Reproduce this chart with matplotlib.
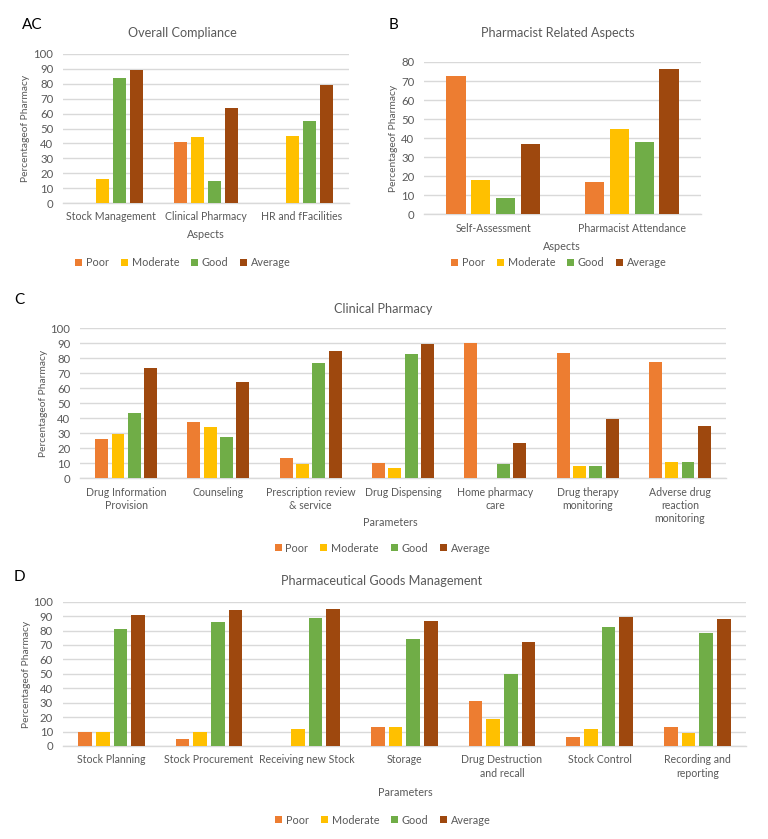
import numpy as np
import matplotlib
matplotlib.use("Agg")
import matplotlib.pyplot as plt
from matplotlib.patches import Patch

plt.rcParams['font.family'] = ['Lato', 'DejaVu Sans']

series = ["Poor", "Moderate", "Good", "Average"]
colors = ["#ED7D31", "#FFC000", "#70AD47", "#9E480E"]

a_cats = ["Stock Management", "Clinical Pharmacy", "HR and fFacilities"]
a_poor = [0, 41, 0]
a_mod = [16, 44, 45]
a_good = [84, 14.5, 55]
a_avg = [89, 64, 79.5]

b_cats = ["Self-Assessment", "Pharmacist Attendance"]
b_poor = [72.7, 17]
b_mod = [18, 44.8]
b_good = [8.8, 37.8]
b_avg = [36.8, 76.2]

c_cats = ["Drug Information\nProvision", "Counseling", "Prescription review\n& service",
          "Drug Dispensing", "Home pharmacy\ncare", "Drug therapy\nmonitoring",
          "Adverse drug\nreaction\nmonitoring"]
c_poor = [26.3, 37.8, 13.3, 10, 90, 83.3, 77.7]
c_mod = [29.7, 34.3, 9.8, 6.9, 0, 8, 10.8]
c_good = [43.4, 27.4, 76.7, 82.7, 9.8, 8, 10.8]
c_avg = [73.4, 64, 84.7, 89.8, 23.7, 39.6, 35]

d_cats = ["Stock Planning", "Stock Procurement", "Receiving new Stock", "Storage",
          "Drug Destruction\nand recall", "Stock Control", "Recording and\nreporting"]
d_poor = [9.5, 4.6, 0, 12.9, 31.2, 6, 12.9]
d_mod = [9.5, 9.5, 11.8, 12.9, 18.7, 11.5, 8.8]
d_good = [81, 85.7, 88.5, 74.1, 50.1, 82.2, 78.3]
d_avg = [91, 94.2, 95, 86.4, 71.8, 89.1, 87.8]

W, H = 768, 839
fig = plt.figure(figsize=(W / 100, H / 100), dpi=100)
TXT = "#595959"
GRID = "#D9D9D9"


def px_axes(x0, x1, ytop, ybot):
    return fig.add_axes([x0 / W, 1 - ybot / H, (x1 - x0) / W, (ybot - ytop) / H])


def panel(rect, cats, data, ymax, ystep, width, step, fs=7.6):
    ax = px_axes(*rect)
    x = np.arange(len(cats))
    for i, (vals, c) in enumerate(zip(data, colors)):
        ax.bar(x + (i - 1.5) * step, vals, width=width, color=c, linewidth=0, zorder=3)
    ax.set_xlim(-0.5, len(cats) - 0.5)
    ax.set_ylim(0, ymax)
    ax.set_yticks(np.arange(0, ymax + 1, ystep))
    ax.set_xticks(x)
    ax.set_xticklabels(cats, fontsize=fs, color=TXT, linespacing=1.25)
    ax.tick_params(axis='y', length=0, pad=7, labelsize=fs + 0.6, labelcolor=TXT)
    ax.tick_params(axis='x', length=0, pad=6)
    ax.yaxis.grid(True, color=GRID, linewidth=1)
    ax.set_axisbelow(True)
    for s in ["top", "left", "right"]:
        ax.spines[s].set_visible(False)
    ax.spines["bottom"].set_color(GRID)
    ax.spines["bottom"].set_linewidth(1)
    ax.spines["bottom"].set_zorder(2)
    return ax


def ftext(x, y, s, **kw):
    fig.text(x / W, 1 - y / H, s, ha='center', va='center', **kw)


def legend(cx, cy):
    handles = [Patch(facecolor=c, edgecolor='none', label=s) for s, c in zip(series, colors)]
    leg = fig.legend(handles=handles, loc='center', bbox_to_anchor=(cx / W, 1 - cy / H),
                     ncol=4, frameon=False, fontsize=7.8, handlelength=0.65, handleheight=0.65,
                     handletextpad=0.35, columnspacing=1.1, borderaxespad=0)
    for t in leg.get_texts():
        t.set_color(TXT)


TFS = 9.1

# Panel A
axA = panel((63, 349, 54, 203), a_cats, [a_poor, a_mod, a_good, a_avg], 100, 10, 0.137, 0.178)
ftext(182, 33, "Overall Compliance", fontsize=TFS, color=TXT)
ftext(206, 235, "Aspects", fontsize=7.8, color=TXT)
ftext(26, 128, "Percentageof Pharmacy", fontsize=7.4, color=TXT, rotation=90)
legend(183, 263)
fig.text(22 / W, 1 - 25 / H, "AC", fontsize=11, color="black", ha='left', va='center')

# Panel B
axB = panel((424, 701, 62, 214.3), b_cats, [b_poor, b_mod, b_good, b_avg], 80, 10, 0.14, 0.18)
ftext(558, 33, "Pharmacist Related Aspects", fontsize=TFS, color=TXT)
ftext(562, 247, "Aspects", fontsize=7.8, color=TXT)
ftext(393, 138, "Percentageof Pharmacy", fontsize=7.4, color=TXT, rotation=90)
legend(559, 263)
fig.text(389 / W, 1 - 25 / H, "B", fontsize=11, color="black", ha='left', va='center')

# Panel C
axC = panel((80, 726, 328.3, 478.3), c_cats, [c_poor, c_mod, c_good, c_avg], 100, 10, 0.14, 0.177)
ftext(383, 309, "Clinical Pharmacy", fontsize=TFS, color=TXT)
ftext(390, 523, "Parameters", fontsize=7.8, color=TXT)
ftext(44, 403, "Percentageof Pharmacy", fontsize=7.4, color=TXT, rotation=90)
legend(382.5, 548)
fig.text(14 / W, 1 - 300 / H, "C", fontsize=11, color="black", ha='left', va='center')

# Panel D
axD = panel((62.7, 746, 601.7, 746), d_cats, [d_poor, d_mod, d_good, d_avg], 100, 10, 0.14, 0.181)
ftext(381.5, 581, "Pharmaceutical Goods Management", fontsize=TFS, color=TXT)
ftext(405, 792, "Parameters", fontsize=7.8, color=TXT)
ftext(27, 674, "Percentageof Pharmacy", fontsize=7.4, color=TXT, rotation=90)
legend(383, 820)
fig.text(14 / W, 1 - 577 / H, "D", fontsize=11, color="black", ha='left', va='center')

fig.savefig("out.png", dpi=100, facecolor="white")
